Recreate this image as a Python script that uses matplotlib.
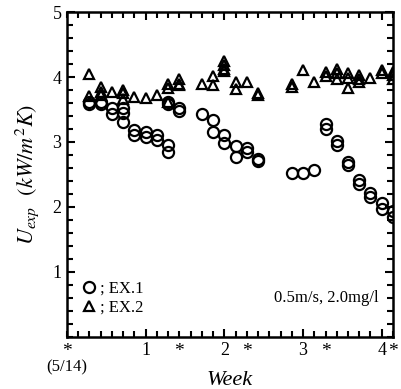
import matplotlib
matplotlib.use("Agg")
import matplotlib.pyplot as plt
from matplotlib.ticker import MultipleLocator, FixedLocator
import numpy as np

plt.rcParams['font.family'] = ['Liberation Serif', 'DejaVu Serif']
plt.rcParams['mathtext.fontset'] = 'stix'

# EX.1 (circles): day, U_exp
ex1_day = [2, 2, 3, 3, 4, 4, 5, 5, 5, 6, 6, 7, 7, 8, 8, 9, 9, 9, 9,
           10, 10, 12, 13, 13, 14, 14, 15, 15, 16, 16, 17, 17,
           20, 21, 22, 23, 23, 24, 24, 25, 25, 26, 26, 27, 27, 28, 28, 29, 29]
ex1_u = [3.62, 3.58, 3.62, 3.58, 3.52, 3.43, 3.52, 3.44, 3.30, 3.18, 3.11, 3.16, 3.08,
         3.11, 3.03, 3.61, 3.58, 2.95, 2.84,
         3.52, 3.48, 3.43, 3.34, 3.16, 3.11, 2.99, 2.94, 2.77, 2.90, 2.84, 2.74, 2.71,
         2.53, 2.53, 2.57, 3.28, 3.20, 3.02, 2.95, 2.69, 2.64, 2.42, 2.35,
         2.21, 2.16, 2.06, 1.97, 1.93, 1.85]

# EX.2 (triangles): day, U_exp
ex2_day = [2, 2, 3, 3, 3, 4, 5, 5, 5, 6, 7, 8, 9, 9, 9,
           10, 10, 10, 12, 13, 13, 14, 14, 14, 14, 15, 15, 16, 17, 17,
           20, 20, 21, 22, 23, 23, 24, 24, 24, 25, 25, 25, 26, 26, 26, 27, 28, 28, 29, 29, 29]
ex2_u = [4.05, 3.71, 3.84, 3.77, 3.72, 3.77, 3.80, 3.75, 3.66, 3.70, 3.68, 3.73, 3.89, 3.83, 3.61,
         3.97, 3.90, 3.87, 3.90, 4.02, 3.87, 4.25, 4.18, 4.13, 4.09, 3.93, 3.81, 3.93, 3.75, 3.72,
         3.89, 3.85, 4.11, 3.92, 4.08, 4.02, 4.13, 4.06, 3.97, 4.06, 3.98, 3.83,
         4.03, 3.97, 3.93, 3.99, 4.11, 4.06, 4.08, 4.03, 3.97]

week_days = [7, 14, 21, 28]
week_labels = ["1", "2", "3", "4"]
star_days = [0, 10, 16, 23, 29]

fig = plt.figure(figsize=(4.01, 3.89), dpi=100)
ax = fig.add_axes([0.167, 0.134, 0.813, 0.835])

ax.plot(ex1_day, ex1_u, linestyle='none', marker='o', markersize=8, markerfacecolor='none',
        markeredgecolor='black', markeredgewidth=1.6, label='; EX.1')
ax.plot(ex2_day, ex2_u, linestyle='none', marker='^', markersize=7.5, markerfacecolor='none',
        markeredgecolor='black', markeredgewidth=1.6, label='; EX.2')

ax.set_xlim(0, 29)
ax.set_ylim(0, 5)
ax.xaxis.set_major_locator(FixedLocator(week_days))
ax.set_xticklabels(week_labels)
ax.xaxis.set_minor_locator(MultipleLocator(1))
ax.yaxis.set_major_locator(FixedLocator([1, 2, 3, 4, 5]))
ax.yaxis.set_minor_locator(MultipleLocator(0.2))

ax.tick_params(which='both', direction='in', top=True, right=True, width=1.5, labelsize=13)
ax.tick_params(which='major', length=6, pad=4)
ax.tick_params(which='minor', length=4)
for s in ax.spines.values():
    s.set_linewidth(1.8)

# stars under the x axis
for d in star_days:
    ax.text(d, -0.045, "*", transform=ax.get_xaxis_transform(), ha='center', va='center', fontsize=14)
ax.text(0, -0.095, "(5/14)", transform=ax.get_xaxis_transform(), ha='center', va='center', fontsize=12)

ax.set_xlabel("Week", fontsize=16, style='italic', labelpad=8)
ax.set_ylabel(r"$U_{exp}$  $(kW/m^2K)$", fontsize=16, labelpad=8)

ax.text(0.955, 0.12, "0.5m/s, 2.0mg/l", transform=ax.transAxes, ha='right', va='center', fontsize=12)

ax.legend(loc='lower left', bbox_to_anchor=(0.0, 0.03), frameon=False, fontsize=12,
          handletextpad=0.1, labelspacing=0.15, handlelength=1.2, borderpad=0.2)

fig.savefig("out.png", dpi=100)
